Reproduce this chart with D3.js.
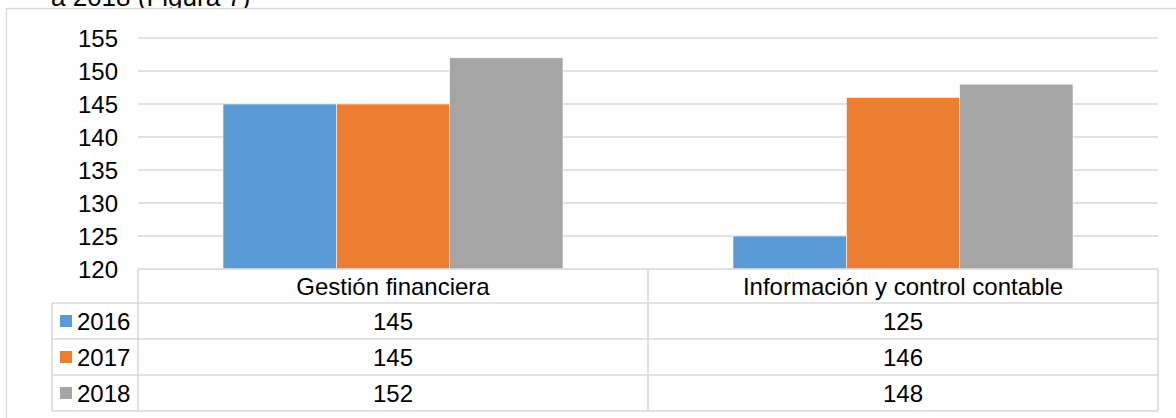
<!DOCTYPE html>
<html>
<head>
<meta charset="utf-8">
<script src="https://cdn.jsdelivr.net/npm/d3@7"></script>
<style>
  body { margin: 0; background: #fff; }
  svg { display: block; font-family: "Liberation Sans", Arial, sans-serif; }
</style>
</head>
<body>
<div id="chart"></div>
<script>
// values
const categories = ["Gestión financiera", "Información y control contable"];
const years = ["2016", "2017", "2018"];
const values2016 = [145, 125];
const values2017 = [145, 146];
const values2018 = [152, 148];
const yTicks = [120, 125, 130, 135, 140, 145, 150, 155];
const colors = ["#5b9bd5", "#ed7d31", "#a5a5a5"];

function graph(id) {
    let width = 1176, height = 418;
    let plot = {left: 138, right: 1158, top: 38, bottom: 269};
    let rowH = 36, headH = 34, legendLeft = 52;
    let gridColor = "#d9d9d9";

    let series = [values2016, values2017, values2018];

    let svg = d3.select(id).append("svg")
        .attr("width", width)
        .attr("height", height);

    // cropped caption text above the chart
    svg.append("text")
        .attr("x", 51)
        .attr("y", 6)
        .attr("font-size", 26)
        .attr("fill", "#000")
        .text("a 2018 (Figura 7)");

    // chart frame
    svg.append("rect")
        .attr("x", 6.5).attr("y", 8.5)
        .attr("width", 1190).attr("height", 430)
        .attr("fill", "#fff")
        .attr("stroke", gridColor)
        .attr("stroke-width", 1.3);

    let y = d3.scaleLinear().domain([120, 155]).range([plot.bottom, plot.top]);
    let x0 = d3.scaleBand().domain(categories).range([plot.left, plot.right]);
    let groupPad = x0.bandwidth() / 6;
    let x1 = d3.scaleBand().domain(years).range([groupPad, x0.bandwidth() - groupPad]);

    // gridlines
    svg.append("g").selectAll("line")
        .data(yTicks.slice(1))
        .enter().append("line")
        .attr("x1", plot.left).attr("x2", plot.right)
        .attr("y1", d => y(d)).attr("y2", d => y(d))
        .attr("stroke", gridColor)
        .attr("stroke-width", 1.3);

    // y axis labels
    let yAxis = svg.append("g")
        .attr("transform", `translate(${plot.left - 20},0)`)
        .call(d3.axisLeft(y).tickValues(yTicks).tickSize(0).tickPadding(0));
    yAxis.select(".domain").remove();
    yAxis.selectAll("text")
        .attr("font-size", 24)
        .attr("font-family", "Liberation Sans, Arial, sans-serif")
        .attr("fill", "#000")
        .attr("dy", "0.36em");

    // bars
    let groups = svg.append("g").selectAll("g")
        .data(categories)
        .enter().append("g")
        .attr("transform", d => `translate(${x0(d)},0)`);

    groups.selectAll("rect")
        .data((d, i) => years.map((yr, j) => ({year: yr, value: series[j][i], color: colors[j]})))
        .enter().append("rect")
        .attr("x", d => x1(d.year))
        .attr("width", x1.bandwidth())
        .attr("y", d => y(d.value))
        .attr("height", d => y(120) - y(d.value))
        .attr("fill", d => d.color)
        .attr("stroke", "#fff")
        .attr("stroke-width", 0.6);

    // data table
    let table = svg.append("g")
        .attr("fill", "none")
        .attr("stroke", gridColor)
        .attr("stroke-width", 1.6);
    let tableBottom = plot.bottom + headH + rowH * years.length;

    // header row
    table.append("line")
        .attr("x1", plot.left).attr("x2", plot.right)
        .attr("y1", plot.bottom).attr("y2", plot.bottom);
    // row separators
    table.selectAll(".row")
        .data(d3.range(years.length + 1))
        .enter().append("line")
        .attr("x1", legendLeft).attr("x2", plot.right)
        .attr("y1", i => plot.bottom + headH + i * rowH)
        .attr("y2", i => plot.bottom + headH + i * rowH);
    // vertical separators
    table.append("line")
        .attr("x1", legendLeft).attr("x2", legendLeft)
        .attr("y1", plot.bottom + headH).attr("y2", tableBottom);
    table.selectAll(".col")
        .data([plot.left, x0(categories[1]), plot.right])
        .enter().append("line")
        .attr("x1", d => d).attr("x2", d => d)
        .attr("y1", plot.bottom).attr("y2", tableBottom);

    // header text
    svg.append("g").selectAll("text")
        .data(categories)
        .enter().append("text")
        .attr("x", d => x0(d) + x0.bandwidth() / 2)
        .attr("y", plot.bottom + headH / 2)
        .attr("dy", "0.36em")
        .attr("text-anchor", "middle")
        .attr("font-size", 24)
        .attr("fill", "#000")
        .text(d => d);

    // rows: legend key, year, values
    years.forEach((yr, j) => {
        let cy = plot.bottom + headH + j * rowH + rowH / 2;
        svg.append("rect")
            .attr("x", 60).attr("y", cy - 6)
            .attr("width", 12).attr("height", 12)
            .attr("fill", colors[j]);
        svg.append("text")
            .attr("x", 77).attr("y", cy)
            .attr("dy", "0.36em")
            .attr("font-size", 24)
            .attr("fill", "#000")
            .text(yr);
        svg.append("g").selectAll("text")
            .data(categories)
            .enter().append("text")
            .attr("x", d => x0(d) + x0.bandwidth() / 2)
            .attr("y", cy)
            .attr("dy", "0.36em")
            .attr("text-anchor", "middle")
            .attr("font-size", 24)
            .attr("fill", "#000")
            .text((d, i) => series[j][i]);
    });
}

graph("#chart");
</script>
</body>
</html>
